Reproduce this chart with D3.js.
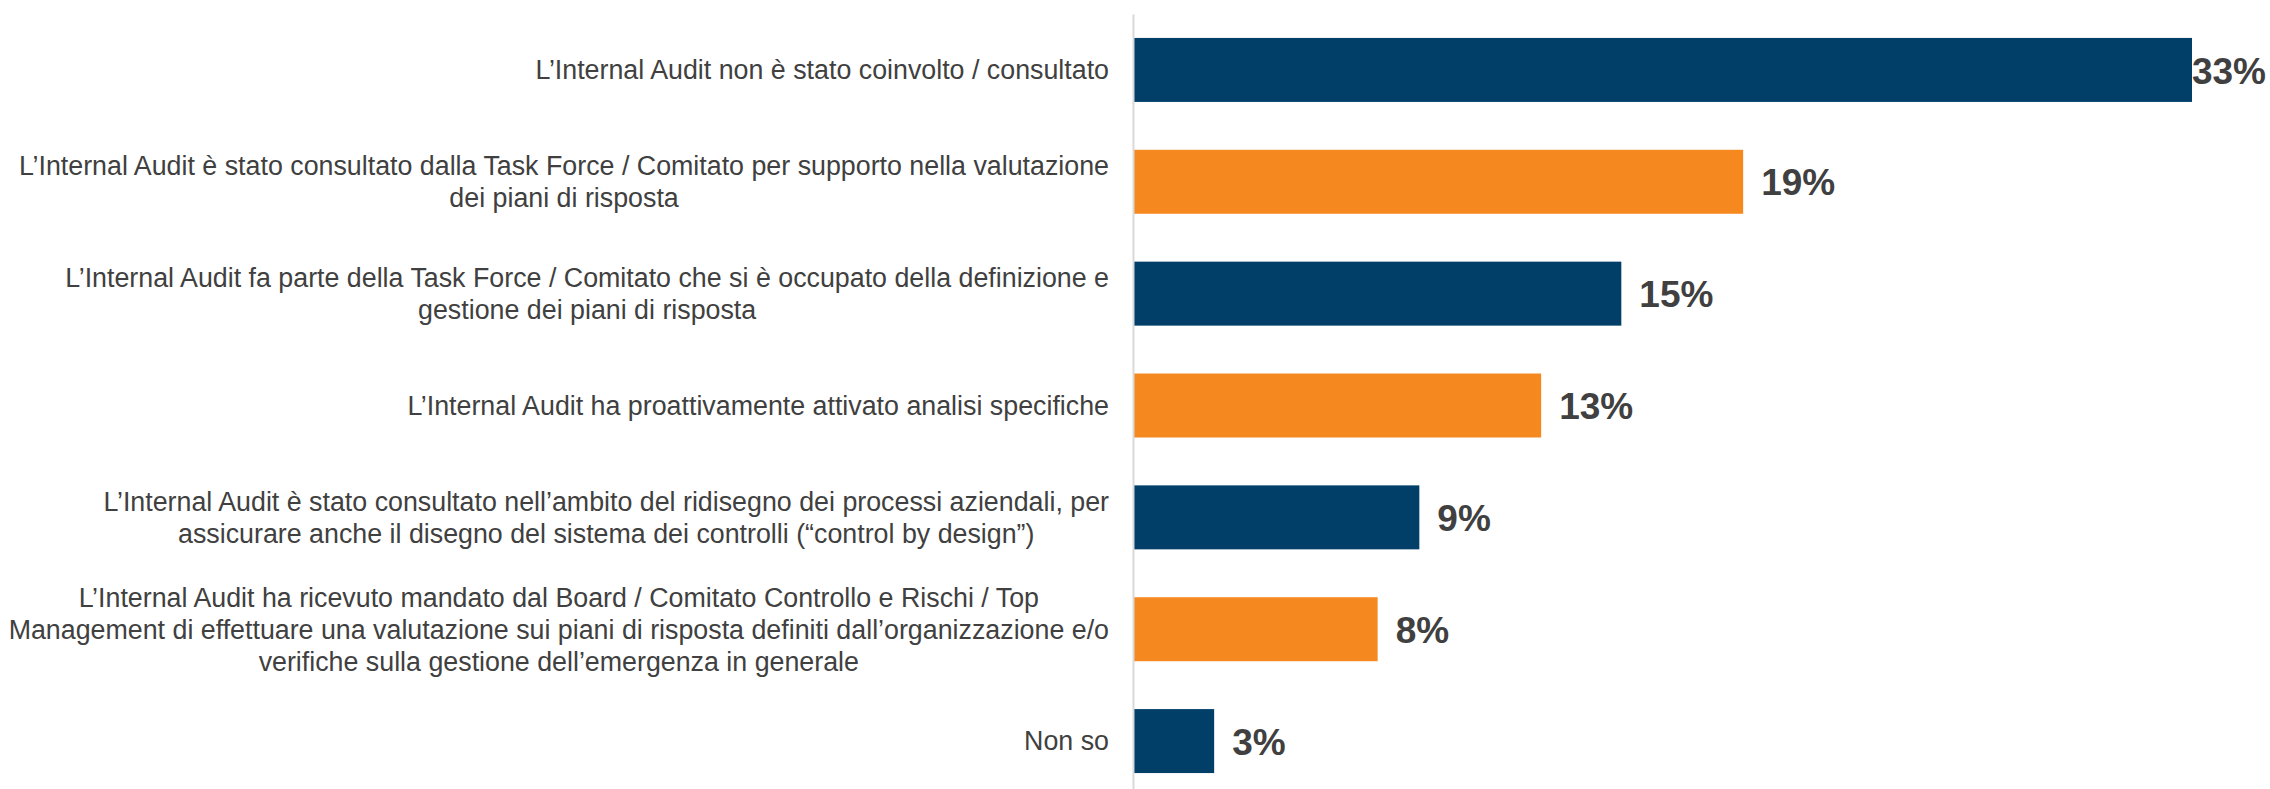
<!DOCTYPE html>
<html lang="it">
  <head>
    <meta charset="utf-8">
    <title>Internal Audit</title>
    <script type="text/javascript" src="https://cdn.jsdelivr.net/npm/d3@7"></script>
<style>
body { margin: 0; background: #fff; }
svg { display: block; }
</style>
  </head>
  <body>
    <script type="text/javascript">
      // categories (line breaks as in the original)
      var categories = [
        "L’Internal Audit non è stato coinvolto / consultato",
        "L’Internal Audit è stato consultato dalla Task Force / Comitato per supporto nella valutazione\ndei piani di risposta",
        "L’Internal Audit fa parte della Task Force / Comitato che si è occupato della definizione e\ngestione dei piani di risposta",
        "L’Internal Audit ha proattivamente attivato analisi specifiche",
        "L’Internal Audit è stato consultato nell’ambito del ridisegno dei processi aziendali, per\nassicurare anche il disegno del sistema dei controlli (“control by design”)",
        "L’Internal Audit ha ricevuto mandato dal Board / Comitato Controllo e Rischi / Top\nManagement di effettuare una valutazione sui piani di risposta definiti dall’organizzazione e/o\nverifiche sulla gestione dell’emergenza in generale",
        "Non so"
      ];
      var values = [33, 19, 15.2, 12.7, 8.9, 7.6, 2.5];
      var colors = ["#013f69", "#f58920"];

      var width = 2270;
      var height = 789;
      var axisX = 1133;
      var labelRight = 1109;

      var svg = d3.select("body")
        .append("svg")
        .attr("width", width)
        .attr("height", height);

      var y = d3.scaleBand()
        .domain(d3.range(categories.length))
        .range([14, 797])
        .paddingInner(0.428)
        .paddingOuter(0.214);

      var x = d3.scaleLinear()
        .domain([0, d3.max(values)])
        .range([axisX + 1, 2192]);

      // bars
      svg.selectAll("rect.bar")
        .data(values)
        .enter()
        .append("rect")
        .attr("class", "bar")
        .attr("x", x(0))
        .attr("y", function(d, i) { return y(i); })
        .attr("width", function(d) { return x(d) - x(0); })
        .attr("height", y.bandwidth())
        .attr("fill", function(d, i) { return colors[i % 2]; });

      // vertical axis line
      var axis = svg.append("g")
        .attr("transform", "translate(" + axisX + ",0)")
        .call(d3.axisLeft(y).tickSize(0).tickFormat(""));
      axis.select(".domain")
        .attr("stroke", "#d9d9d9")
        .attr("stroke-width", 2);

      // category labels: lines centred, block right-aligned
      var lineH = 32;
      categories.forEach(function(label, i) {
        var lines = label.split("\n");
        var g = svg.append("g");
        var cy = y(i) + y.bandwidth() / 2;
        var texts = g.selectAll("text")
          .data(lines)
          .enter()
          .append("text")
          .text(function(d) { return d; })
          .attr("y", function(d, j) { return cy + (j - (lines.length - 1) / 2) * lineH; })
          .attr("dy", "0.35em")
          .attr("font-family", "'Liberation Sans', Arial, sans-serif")
          .attr("font-size", "26.8px")
          .attr("fill", "#404040")
          .attr("text-anchor", "middle");
        var maxW = 0;
        texts.each(function() { maxW = Math.max(maxW, this.getComputedTextLength()); });
        texts.attr("x", labelRight - maxW / 2);
      });

      // value labels
      svg.selectAll("text.val")
        .data(values)
        .enter()
        .append("text")
        .attr("class", "val")
        .text(function(d) { return Math.round(d) + "%"; })
        .attr("y", function(d, i) { return y(i) + y.bandwidth() / 2; })
        .attr("dy", "0.37em")
        .attr("font-family", "'Liberation Sans', Arial, sans-serif")
        .attr("font-weight", "bold")
        .attr("font-size", "37px")
        .attr("fill", "#404040")
        .attr("x", function(d) {
          var w = this.getComputedTextLength();
          return Math.min(x(d) + 18, width - w - 4);
        });
    </script>
  </body>
</html>
